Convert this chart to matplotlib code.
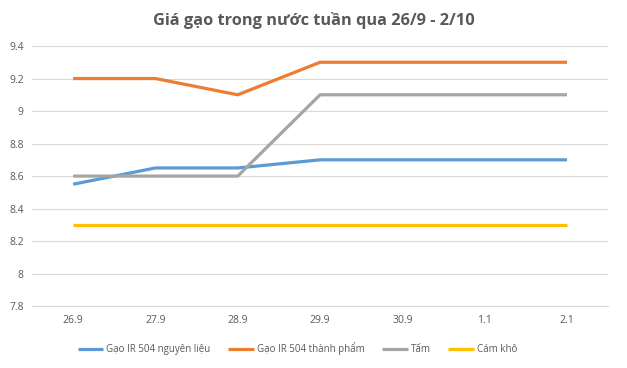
import matplotlib
matplotlib.use("Agg")
import matplotlib.pyplot as plt

categories = ["26.9", "27.9", "28.9", "29.9", "30.9", "1.1", "2.1"]
ir504_raw = [8.55, 8.65, 8.65, 8.7, 8.7, 8.7, 8.7]
ir504_finished = [9.2, 9.2, 9.1, 9.3, 9.3, 9.3, 9.3]
tam = [8.6, 8.6, 8.6, 9.1, 9.1, 9.1, 9.1]
cam_kho = [8.3, 8.3, 8.3, 8.3, 8.3, 8.3, 8.3]

series = [
    ("Gạo IR 504 nguyên liệu", ir504_raw, "#5B9BD5"),
    ("Gạo IR 504 thành phẩm", ir504_finished, "#ED7D31"),
    ("Tấm", tam, "#A5A5A5"),
    ("Cám khô", cam_kho, "#FFC000"),
]

plt.rcParams['font.family'] = ['Open Sans', 'DejaVu Sans']
text_color = "#595959"

fig = plt.figure(figsize=(6.27, 3.68), dpi=100)
ax = fig.add_axes([0.051, 0.168, 0.919, 0.707])

x = list(range(len(categories)))
for name, vals, col in series:
    ax.plot(x, vals, color=col, lw=2.3, label=name, solid_capstyle='butt')

ax.set_xlim(-0.5, len(categories) - 0.5)
ax.set_ylim(7.8, 9.4)
yt = [7.8, 8.0, 8.2, 8.4, 8.6, 8.8, 9.0, 9.2, 9.4]
ax.set_yticks(yt)
ax.set_yticklabels(["7.8", "8", "8.2", "8.4", "8.6", "8.8", "9", "9.2", "9.4"])
ax.set_xticks(x)
ax.set_xticklabels(categories)
ax.tick_params(axis='both', length=0, labelsize=7.5, colors=text_color, pad=6)
ax.grid(axis='y', color="#D9D9D9", lw=0.8)
ax.set_axisbelow(True)
for s in ax.spines.values():
    s.set_visible(False)
ax.spines['bottom'].set_visible(True)
ax.spines['bottom'].set_color("#D9D9D9")

fig.text(0.5, 0.945, "Giá gạo trong nước tuần qua 26/9 - 2/10", ha='center', va='center',
         fontsize=11.8, fontweight='bold', color=text_color)

fig.legend(loc='center', bbox_to_anchor=(0.4745, 0.053), ncol=4, frameon=False,
           fontsize=7, labelcolor=text_color, handlelength=2.6, handletextpad=0.3,
           columnspacing=1.85)

fig.savefig("out.png", dpi=100)
